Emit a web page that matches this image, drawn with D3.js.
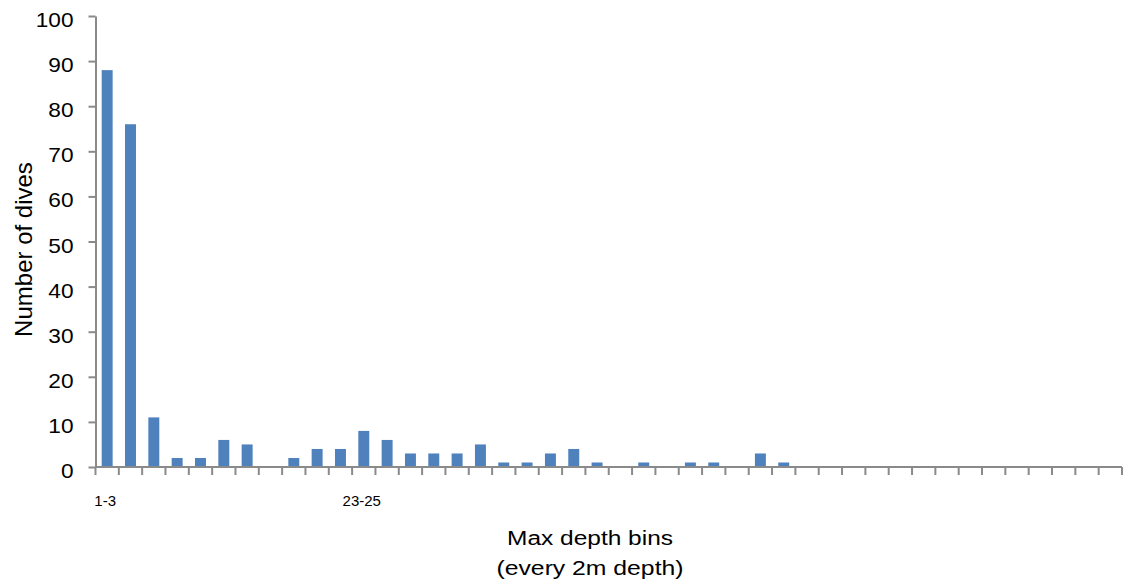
<!DOCTYPE html>
<html>
<head>
<meta charset="utf-8">
<script src="https://cdn.jsdelivr.net/npm/d3@7"></script>
<style>
  body { margin: 0; background: #fff; }
  svg { display: block; }
</style>
</head>
<body>
<svg id="chart" width="1128" height="585"></svg>
<script>
// bins of 2m, 1-3 ... 87-89
const bins = d3.range(44).map(i => `${1 + 2 * i}-${3 + 2 * i}`);
const dives = [88, 76, 11, 2, 2, 6, 5, 0, 2, 4, 4, 8, 6, 3, 3, 3, 5, 1, 1, 3, 4, 1, 0, 1, 0, 1, 1, 0, 3, 1,
               0, 0, 0, 0, 0, 0, 0, 0, 0, 0, 0, 0, 0, 0];
const shownLabels = ["1-3", "23-25"];
const yTicks = [0, 10, 20, 30, 40, 50, 60, 70, 80, 90, 100];

const axisColor = "#8a8a8a";
const barColor = "#4f81bd";
const font = "Liberation Sans, Arial, sans-serif";

const svg = d3.select("#chart");

const x = d3.scaleBand()
    .domain(bins)
    .range([95.5, 1122])
    .paddingInner(0.53)
    .paddingOuter(0.265);

const y = d3.scaleLinear()
    .domain([0, 100])
    .range([467, 16]);

// bars
svg.append("g")
  .selectAll("rect")
  .data(bins)
  .join("rect")
    .attr("x", d => x(d))
    .attr("width", x.bandwidth())
    .attr("y", (d, i) => y(dives[i]))
    .attr("height", (d, i) => y(0) - y(dives[i]))
    .attr("fill", barColor);

// y axis
const yAxis = svg.append("g")
    .attr("transform", `translate(${x.range()[0]},0)`)
    .call(d3.axisLeft(y).tickValues(yTicks).tickSize(7).tickPadding(15).tickSizeOuter(0));
yAxis.select(".domain").attr("stroke", axisColor).attr("stroke-width", 2);
yAxis.selectAll(".tick line").attr("stroke", axisColor).attr("stroke-width", 2);
// the source picture is a bit wide, so stretch the digits a little
yAxis.selectAll(".tick text")
    .attr("dy", "0.5em")
    .attr("fill", "#000")
    .attr("textLength", d => String(d).length * 12.6)
    .attr("lengthAdjust", "spacingAndGlyphs")
    .style("font-family", font)
    .style("font-size", "21px");

// x axis: line, boundary ticks, two labels
const xAxis = svg.append("g").attr("transform", `translate(0,${y(0)})`);
const half = (x.step() - x.bandwidth()) / 2;
const edges = bins.map(d => x(d) - half).concat([x.range()[1]]);

xAxis.append("line")
    .attr("x1", x.range()[0]).attr("x2", x.range()[1])
    .attr("stroke", axisColor).attr("stroke-width", 2);

xAxis.selectAll("line.tk")
  .data(edges)
  .join("line")
    .attr("class", "tk")
    .attr("x1", d => d).attr("x2", d => d)
    .attr("y1", 0).attr("y2", 8)
    .attr("stroke", axisColor).attr("stroke-width", 2);

xAxis.selectAll("text")
  .data(shownLabels)
  .join("text")
    .attr("x", d => x(d) + x.bandwidth() / 2 - 2)
    .attr("y", 39)
    .attr("text-anchor", "middle")
    .style("font-family", font)
    .style("font-size", "15px")
    .text(d => d);

// titles
svg.append("text")
    .attr("transform", "translate(32,249.5) rotate(-90)")
    .attr("text-anchor", "middle")
    .style("font-family", font)
    .style("font-size", "24px")
    .text("Number of dives");

const xTitle = svg.append("text")
    .attr("text-anchor", "middle")
    .style("font-family", font)
    .style("font-size", "20px");
xTitle.append("tspan").attr("x", 590).attr("y", 545)
    .attr("textLength", 166).attr("lengthAdjust", "spacingAndGlyphs")
    .text("Max depth bins");
xTitle.append("tspan").attr("x", 590).attr("y", 575)
    .attr("textLength", 187).attr("lengthAdjust", "spacingAndGlyphs")
    .text("(every 2m depth)");
</script>
</body>
</html>
